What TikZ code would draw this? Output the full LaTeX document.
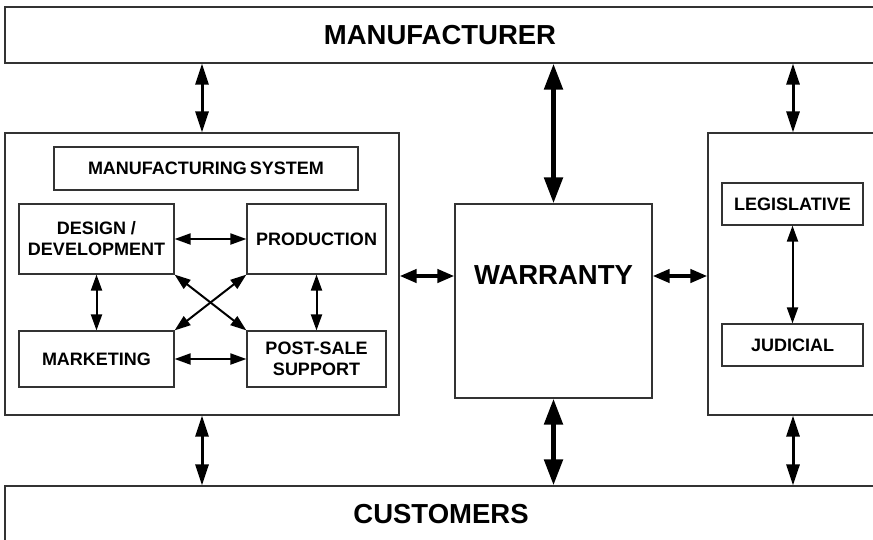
\documentclass[tikz,border=0pt]{standalone}
\usepackage{fontspec}
\setmainfont{Liberation Sans}
\usetikzlibrary{arrows.meta}

\begin{document}
\begin{tikzpicture}[x=1pt,y=-1pt,
  box/.style={draw=black!80,line width=1.2pt,fill=white,inner sep=0pt,
    align=center,font=\bfseries\fontsize{18}{21}\selectfont},
  bigbox/.style={box,font=\bfseries\fontsize{27.5}{30}\selectfont},
  bigtext/.style={inner sep=0pt,font=\bfseries\fontsize{27.5}{30}\selectfont},
  link/.style={line width=2pt,{Triangle[length=16pt,width=11pt]}-{Triangle[length=16pt,width=11pt]}},
  outer/.style={line width=3pt,{Triangle[length=21pt,width=13pt]}-{Triangle[length=21pt,width=13pt]}},
  main/.style={line width=5pt,{Triangle[length=26pt,width=18pt]}-{Triangle[length=26pt,width=18pt]}},
  side/.style={line width=4pt,{Triangle[length=17pt,width=13pt]}-{Triangle[length=17pt,width=13pt]}}]

\useasboundingbox (0,0) rectangle (873,539);
\clip (0,0) rectangle (873,539);

% outer parties
\node[bigbox,minimum width=870,minimum height=56] (mfr) at (440,35) {MANUFACTURER};
\node[bigbox,minimum width=872,minimum height=56] (cust) at (441,514) {CUSTOMERS};

% manufacturing system
\node[box,minimum width=394,minimum height=282] (lsys) at (202,274) {};
\node[box,minimum width=304,minimum height=43] (mfgsys) at (206,168.5) {MANUFACTURING\,SYSTEM};
\node[box,minimum width=155,minimum height=70] (design) at (96.5,239) {DESIGN /\\DEVELOPMENT};
\node[box,minimum width=139,minimum height=70] (prod) at (316.5,239) {PRODUCTION};
\node[box,minimum width=155,minimum height=56] (mkt) at (96.5,359) {MARKETING};
\node[box,minimum width=139,minimum height=56] (post) at (316.5,359) {POST-SALE\\SUPPORT};

% legal system
\node[box,minimum width=170,minimum height=282] (rsys) at (793,274) {};
\node[box,minimum width=141,minimum height=42] (legis) at (792.5,204) {LEGISLATIVE};
\node[box,minimum width=141,minimum height=42] (jud) at (792.5,345) {JUDICIAL};

% warranty
\node[box,minimum width=197,minimum height=194] (war) at (553.5,301) {};
\node[bigtext] (wartext) at (553.5,275) {WARRANTY};

% links inside the manufacturing system
\draw[link] (design.east) -- (prod.west);
\draw[link] (mkt.east) -- (post.west);
\draw[link] (design.south) -- (mkt.north);
\draw[link] (prod.south) -- (post.north);
\draw[link] (design.south east) -- (post.north west);
\draw[link] (prod.south west) -- (mkt.north east);

% link inside the legal system
\draw[link] (legis.south) -- (jud.north);

% links to the outer parties
\draw[outer] (mfr.south -| lsys.north) -- (lsys.north);
\draw[outer] (mfr.south -| rsys.north) -- (rsys.north);
\draw[outer] (lsys.south) -- (cust.north -| lsys.south);
\draw[outer] (rsys.south) -- (cust.north -| rsys.south);
\draw[main] (mfr.south -| war.north) -- (war.north);
\draw[main] (war.south) -- (cust.north -| war.south);

% links to the warranty
\coordinate (hy) at (0,276);
\draw[side] (lsys.east |- hy) -- (war.west |- hy);
\draw[side] (war.east |- hy) -- (rsys.west |- hy);
\end{tikzpicture}
\end{document}
